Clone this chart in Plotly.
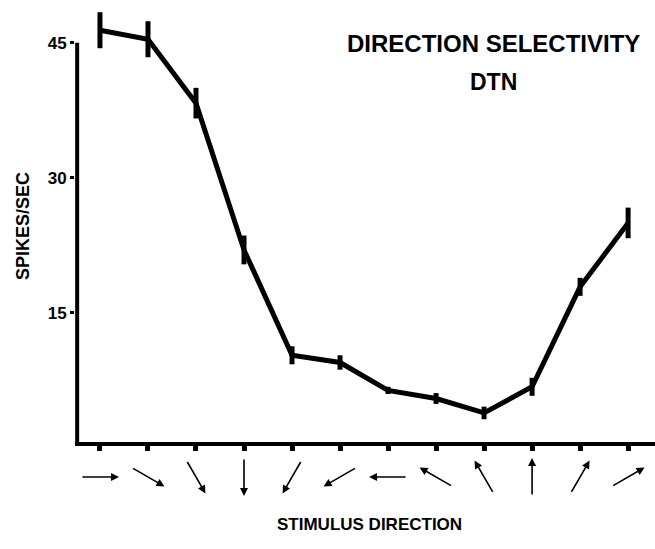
import math
import plotly.graph_objects as go

# ---- data ----
directions_deg = [0, -30, -60, -90, -120, -150, 180, 150, 120, 90, 60, 30]
spikes = [46.4, 45.4, 38.3, 22.0, 10.3, 9.5, 6.4, 5.5, 3.9, 6.8, 17.9, 25.0]
sem = [2.0, 2.0, 1.7, 1.6, 1.0, 0.8, 0.4, 0.6, 0.7, 1.0, 1.0, 1.7]
y_ticks = [15, 30, 45]
title_lines = ["DIRECTION SELECTIVITY", "DTN"]
x_label = "STIMULUS DIRECTION"
y_label = "SPIKES/SEC"

x_idx = list(range(len(spikes)))
FONT = "Liberation Sans, Arial, sans-serif"
X_RANGE = [-0.52, 11.56]
Y_MIN, Y_MAX = 0.67, 49.2

fig = go.Figure()
fig.add_trace(go.Scatter(
    x=x_idx, y=spikes, mode="lines",
    line=dict(color="black", width=5),
    error_y=dict(type="data", array=sem, visible=True, color="black",
                 thickness=5, width=0),
    cliponaxis=False, showlegend=False, hoverinfo="skip",
))

# direction arrows under each tick
L = 38
for i, d in enumerate(directions_deg):
    c = math.cos(math.radians(d))
    s = math.sin(math.radians(d))
    fig.add_annotation(
        x=i, y=-0.08, xref="x", yref="paper", text="",
        showarrow=True, arrowhead=2, arrowsize=1.0, arrowwidth=1.6,
        arrowcolor="black",
        ax=-L * c, ay=L * s,
        xshift=(L / 2) * c, yshift=(L / 2) * s,
    )

# y-axis spine drawn only up to 45
fig.add_shape(type="line", xref="x", yref="y",
              x0=X_RANGE[0] + 0.045, x1=X_RANGE[0] + 0.045,
              y0=Y_MIN, y1=45, line=dict(color="black", width=4), layer="above")

PH = 437.0  # plot height in px
PW = 580.0
fig.add_annotation(xref="paper", yref="paper", x=(494 - 75) / PW, y=(442 - 43) / PH,
                   text=title_lines[0], showarrow=False,
                   font=dict(family=FONT, size=24, color="black", weight="bold"),
                   xanchor="center", yanchor="middle")
fig.add_annotation(xref="paper", yref="paper", x=(494 - 75) / PW, y=(442 - 82) / PH,
                   text=title_lines[1], showarrow=False,
                   font=dict(family=FONT, size=23, color="black", weight="bold"),
                   xanchor="center", yanchor="middle")
fig.add_annotation(xref="paper", yref="paper", x=(369 - 75) / PW, y=(442 - 524) / PH,
                   text=x_label, showarrow=False,
                   font=dict(family=FONT, size=17, color="black", weight="bold"),
                   xanchor="center", yanchor="middle")
fig.add_annotation(xref="paper", yref="paper", x=(23 - 75) / PW, y=(442 - 226) / PH,
                   text=y_label, showarrow=False, textangle=-90,
                   font=dict(family=FONT, size=18, color="black", weight="bold"),
                   xanchor="center", yanchor="middle")

fig.update_layout(
    width=655, height=549,
    margin=dict(l=75, r=0, t=5, b=107),
    paper_bgcolor="white", plot_bgcolor="white",
    font=dict(family=FONT, color="black"),
    xaxis=dict(range=X_RANGE, showgrid=False, zeroline=False,
               showline=True, linecolor="black", linewidth=4,
               tickmode="array", tickvals=x_idx, ticktext=[""] * len(x_idx),
               ticks="outside", ticklen=5, tickwidth=5, tickcolor="black"),
    yaxis=dict(range=[Y_MIN, Y_MAX], showgrid=False, zeroline=False,
               showline=False, tickmode="array", tickvals=y_ticks,
               ticks="outside", ticklen=4, tickwidth=3, tickcolor="black",
               ticklabelstandoff=0,
               tickfont=dict(family=FONT, size=17, color="black", weight="bold")),
)

fig.write_html("out.html")
